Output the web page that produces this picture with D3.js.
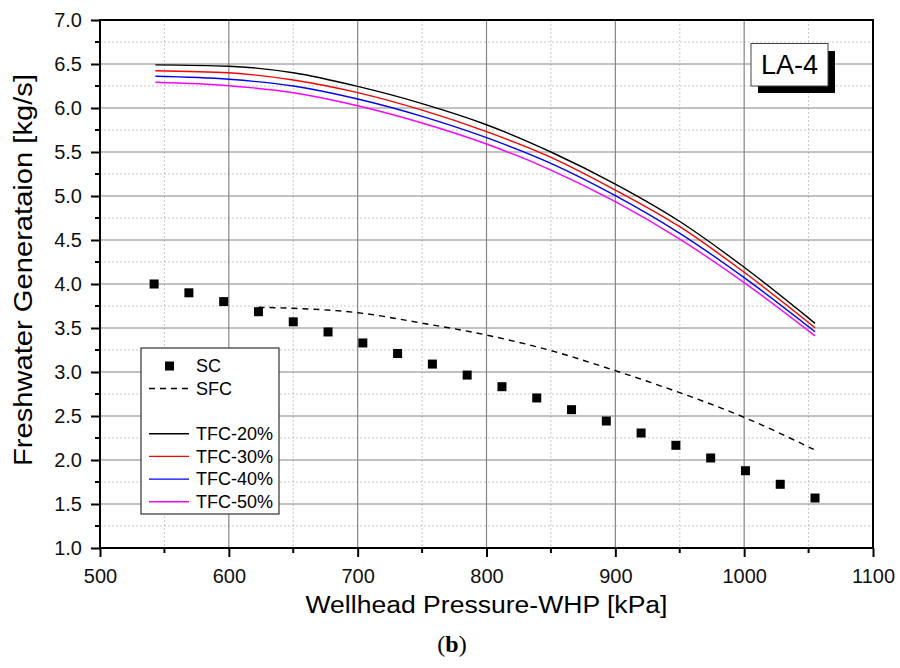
<!DOCTYPE html>
<html>
<head>
<meta charset="utf-8">
<script src="https://cdn.jsdelivr.net/npm/d3@7"></script>
<style>
  html, body { margin: 0; padding: 0; background: #fff; }
  svg { display: block; font-family: "Liberation Sans", Arial, sans-serif; }
</style>
</head>
<body>
<svg id="chart" width="900" height="668"></svg>
<script>
// ---------- data ----------
const xTicks = [500, 600, 700, 800, 900, 1000, 1100];
const yTicks = [1.0, 1.5, 2.0, 2.5, 3.0, 3.5, 4.0, 4.5, 5.0, 5.5, 6.0, 6.5, 7.0];

const scX = [542, 569, 596, 623, 650, 677, 704, 731, 758, 785, 812, 839, 866, 893, 920, 947, 974, 1001, 1028, 1055];
const scY = [4.00, 3.90, 3.80, 3.685, 3.57, 3.455, 3.33, 3.21, 3.09, 2.965, 2.833, 2.705, 2.572, 2.443, 2.307, 2.167, 2.023, 1.878, 1.724, 1.568];

const sfcX = [623, 650, 700, 750, 800, 850, 900, 950, 1000, 1054];
const sfcY = [3.735, 3.724, 3.674, 3.555, 3.42, 3.243, 3.015, 2.765, 2.485, 2.12];

const tfcX = [543, 600, 650, 700, 750, 800, 850, 900, 950, 1000, 1055];
const tfc20 = [6.49, 6.475, 6.40, 6.245, 6.05, 5.81, 5.50, 5.135, 4.71, 4.19, 3.553];
const tfc30 = [6.424, 6.40, 6.318, 6.174, 5.975, 5.731, 5.44, 5.068, 4.651, 4.133, 3.503];
const tfc40 = [6.36, 6.326, 6.25, 6.102, 5.905, 5.663, 5.371, 5.004, 4.576, 4.072, 3.458];
const tfc50 = [6.292, 6.253, 6.174, 6.026, 5.83, 5.591, 5.295, 4.935, 4.51, 4.015, 3.41];

const tfcNames = ["TFC-20%", "TFC-30%", "TFC-40%", "TFC-50%"];
const tfcColors = ["#000000", "#ff0000", "#0000ff", "#ff00ff"];
const tfcSeries = [tfc20, tfc30, tfc40, tfc50];

// ---------- layout ----------
const L = 100, R = 873, T = 20, B = 548;
const svg = d3.select("#chart");
const x = d3.scaleLinear().domain([500, 1100]).range([L, R]);
const y = d3.scaleLinear().domain([1.0, 7.0]).range([B, T]);

// grid
const grid = svg.append("g");
const xMinor = d3.range(550, 1100, 100);
const yMinor = d3.range(1.25, 7.0, 0.5);
grid.selectAll(".xmin").data(xMinor).join("line")
  .attr("x1", d => x(d)).attr("x2", d => x(d)).attr("y1", T).attr("y2", B)
  .attr("stroke", "#c8c8c8").attr("stroke-width", 1).attr("stroke-dasharray", "2,2");
grid.selectAll(".ymin").data(yMinor).join("line")
  .attr("y1", d => y(d)).attr("y2", d => y(d)).attr("x1", L).attr("x2", R)
  .attr("stroke", "#c8c8c8").attr("stroke-width", 1).attr("stroke-dasharray", "2,2");
grid.selectAll(".xmaj").data(xTicks.slice(1, -1)).join("line")
  .attr("x1", d => x(d)).attr("x2", d => x(d)).attr("y1", T).attr("y2", B)
  .attr("stroke", "#858585").attr("stroke-width", 1.2);
grid.selectAll(".ymaj").data(yTicks.slice(1, -1)).join("line")
  .attr("y1", d => y(d)).attr("y2", d => y(d)).attr("x1", L).attr("x2", R)
  .attr("stroke", "#858585").attr("stroke-width", 1.2);

// axes
const xAxis = d3.axisBottom(x).tickValues(xTicks).tickSize(9).tickPadding(12).tickFormat(d3.format("d"));
const yAxis = d3.axisLeft(y).tickValues(yTicks).tickSize(9).tickPadding(9).tickFormat(d3.format(".1f"));
const gx = svg.append("g").attr("transform", `translate(0,${B})`).call(xAxis);
const gy = svg.append("g").attr("transform", `translate(${L},0)`).call(yAxis);
[gx, gy].forEach(g => {
  g.select(".domain").remove();
  g.selectAll(".tick line").attr("stroke", "#000").attr("stroke-width", 2);
  g.selectAll(".tick text").attr("fill", "#111").style("font-size", "20px")
    .style("font-family", "'Liberation Sans', Arial, sans-serif");
});
gx.selectAll(".tick text").attr("dy", "0.71em");
// minor ticks
svg.append("g").selectAll("line").data(xMinor).join("line")
  .attr("x1", d => x(d)).attr("x2", d => x(d)).attr("y1", B).attr("y2", B + 5)
  .attr("stroke", "#000").attr("stroke-width", 2);
svg.append("g").selectAll("line").data(yMinor).join("line")
  .attr("y1", d => y(d)).attr("y2", d => y(d)).attr("x1", L).attr("x2", L - 5)
  .attr("stroke", "#000").attr("stroke-width", 2);

// frame
svg.append("rect").attr("x", L).attr("y", T).attr("width", R - L).attr("height", B - T)
  .attr("fill", "none").attr("stroke", "#000").attr("stroke-width", 2);

// TFC lines
const line = d3.line().curve(d3.curveMonotoneX);
tfcSeries.forEach((s, i) => {
  svg.append("path")
    .attr("d", line(tfcX.map((v, j) => [x(v), y(s[j])])))
    .attr("fill", "none").attr("stroke", tfcColors[i]).attr("stroke-width", 1.4);
});

// SFC dashed
svg.append("path")
  .attr("d", line(sfcX.map((v, j) => [x(v), y(sfcY[j])])))
  .attr("fill", "none").attr("stroke", "#000").attr("stroke-width", 1.4)
  .attr("stroke-dasharray", "6,5");

// SC squares
const sq = 9;
svg.append("g").selectAll("rect").data(scX).join("rect")
  .attr("x", (d) => x(d) - sq / 2)
  .attr("y", (d, i) => y(scY[i]) - sq / 2)
  .attr("width", sq).attr("height", sq).attr("fill", "#000");

// legend
const lg = svg.append("g");
lg.append("rect").attr("x", 141).attr("y", 348).attr("width", 138).attr("height", 166)
  .attr("fill", "#fff").attr("stroke", "#333").attr("stroke-width", 1.2);
lg.append("rect").attr("x", 169.5 - sq / 2).attr("y", 366 - sq / 2).attr("width", sq).attr("height", sq).attr("fill", "#000");
lg.append("text").attr("x", 196).attr("y", 366).attr("dy", "0.35em").style("font-size", "18px").text("SC");
lg.append("line").attr("x1", 149).attr("x2", 189).attr("y1", 388.5).attr("y2", 388.5)
  .attr("stroke", "#000").attr("stroke-width", 1.4).attr("stroke-dasharray", "6,5");
lg.append("text").attr("x", 196).attr("y", 388.5).attr("dy", "0.35em").style("font-size", "18px").text("SFC");
tfcNames.forEach((n, i) => {
  const yy = 433.7 + i * 22.7;
  lg.append("line").attr("x1", 149).attr("x2", 189).attr("y1", yy).attr("y2", yy)
    .attr("stroke", tfcColors[i]).attr("stroke-width", 1.4);
  lg.append("text").attr("x", 196).attr("y", yy).attr("dy", "0.35em").style("font-size", "18px").text(n);
});

// LA-4 label
svg.append("rect").attr("x", 758).attr("y", 51).attr("width", 77).attr("height", 42).attr("fill", "#000");
svg.append("rect").attr("x", 751).attr("y", 43.5).attr("width", 77).attr("height", 42.5)
  .attr("fill", "#fff").attr("stroke", "#444").attr("stroke-width", 1);
svg.append("text").attr("x", 789.5).attr("y", 74).attr("text-anchor", "middle")
  .style("font-size", "27px").text("LA-4");

// axis titles
svg.append("text").attr("x", (L + R) / 2).attr("y", 613).attr("text-anchor", "middle")
  .style("font-size", "23px").attr("textLength", 362).attr("lengthAdjust", "spacingAndGlyphs")
  .text("Wellhead Pressure-WHP [kPa]");
svg.append("text").attr("transform", "translate(32,270) rotate(-90)").attr("text-anchor", "middle")
  .style("font-size", "25px").attr("textLength", 392).attr("lengthAdjust", "spacingAndGlyphs")
  .text("Freshwater Generataion [kg/s]");

// caption
const cap = svg.append("text").attr("x", 452).attr("y", 652).attr("text-anchor", "middle")
  .style("font-family", "'Liberation Serif', 'Times New Roman', serif").style("font-size", "24px");
cap.append("tspan").text("(");
cap.append("tspan").attr("font-weight", "bold").text("b");
cap.append("tspan").text(")");
</script>
</body>
</html>
